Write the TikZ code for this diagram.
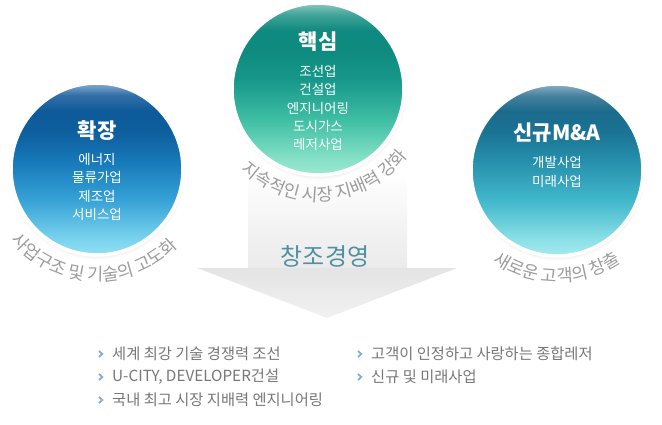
\documentclass[tikz,border=0pt]{standalone}
\usepackage{fontspec}
\newfontfamily\kr{Noto Sans CJK KR}
\usetikzlibrary{decorations.text,shadows,calc}

\definecolor{La}{HTML}{92E0F3}\definecolor{Lb}{HTML}{78D2EE}\definecolor{Lc}{HTML}{36A2D6}
\definecolor{Ld}{HTML}{1678B8}\definecolor{Le}{HTML}{0E5E9D}\definecolor{Lf}{HTML}{0E5A9A}
\definecolor{Lg}{HTML}{3370A8}\definecolor{Lh}{HTML}{8AAED2}
\definecolor{Ma}{HTML}{9EE8D2}\definecolor{Mb}{HTML}{84E0C6}\definecolor{Mc}{HTML}{3FBFA4}
\definecolor{Md}{HTML}{17988A}\definecolor{Me}{HTML}{0F8A7F}\definecolor{Mf}{HTML}{0F8A80}
\definecolor{Mg}{HTML}{40A398}\definecolor{Mh}{HTML}{8CC8C0}
\definecolor{Ra}{HTML}{A4EAEE}\definecolor{Rb}{HTML}{8AE0E6}\definecolor{Rc}{HTML}{42B8CC}
\definecolor{Rd}{HTML}{2690AC}\definecolor{Re}{HTML}{1B7394}\definecolor{Rf}{HTML}{1B6A8C}
\definecolor{Rg}{HTML}{45809F}\definecolor{Rh}{HTML}{8CB0C4}
\definecolor{arcgray}{HTML}{9C9C9C}
\definecolor{listgray}{HTML}{777777}
\definecolor{chevblue}{HTML}{7FA9DA}
\definecolor{slogan}{HTML}{4F90A2}
\definecolor{shaftgray}{HTML}{EAEAEA}
\definecolor{headtop}{HTML}{E4E4E4}
\definecolor{headbot}{HTML}{F1F1F1}

\pgfdeclareverticalshading{ballL}{100bp}{color(0bp)=(La); color(25bp)=(La); color(30bp)=(Lb); color(41bp)=(Lc); color(52.5bp)=(Ld); color(61bp)=(Le); color(67bp)=(Lf); color(71.5bp)=(Lg); color(75bp)=(Lh); color(100bp)=(Lh)}
\pgfdeclareverticalshading{ballM}{100bp}{color(0bp)=(Ma); color(25bp)=(Ma); color(30bp)=(Mb); color(41bp)=(Mc); color(52.5bp)=(Md); color(61bp)=(Me); color(67bp)=(Mf); color(71.5bp)=(Mg); color(75bp)=(Mh); color(100bp)=(Mh)}
\pgfdeclareverticalshading{ballR}{100bp}{color(0bp)=(Ra); color(25bp)=(Ra); color(30bp)=(Rb); color(41bp)=(Rc); color(52.5bp)=(Rd); color(61bp)=(Re); color(67bp)=(Rf); color(71.5bp)=(Rg); color(75bp)=(Rh); color(100bp)=(Rh)}

\tikzset{
  ball/.style={circle, minimum size=172pt, inner sep=0pt, draw=white, line width=3.5pt,
    circular drop shadow={shadow scale=1.03, shadow xshift=0pt, shadow yshift=-2pt, opacity=0.35}},
  balltitle/.style={text=white, font=\kr\bfseries\fontsize{21}{23}\selectfont, inner sep=0pt},
  ballitems/.style={text=white, font=\kr\fontsize{13.5}{18.3}\selectfont, align=center, inner sep=0pt},
  arctext/.style={decorate, decoration={text along path, text align=center,
    text={|\kr\fontsize{17.5}{18}\selectfont\color{arcgray}|#1}}},
  listitem/.style={anchor=west, inner sep=0pt, text=listgray, font=\kr\fontsize{15.3}{17}\selectfont},
  chevron/.style={draw=chevblue, line width=1.7pt}
}

\begin{document}
\begin{tikzpicture}[x=1pt,y=1pt]
\useasboundingbox (0,0) rectangle (662,-425);

% arrow
\shade[top color=white, bottom color=shaftgray] (248,-172) rectangle (407,-269);
\shade[top color=headtop, bottom color=headbot] (197,-268) -- (457,-268) -- (327,-318) -- cycle;
\node[text=slogan, font=\kr\fontsize{24}{26}\selectfont, inner sep=0pt] (slog) at (325,-256) {창조경영};

% circles
\node[ball, shade, shading=ballL] (L) at (97,-169) {};
\node[ball, shade, shading=ballM] (M) at (318,-89) {};
\node[ball, shade, shading=ballR] (R) at (557,-170) {};

\node[balltitle] (Lt) at (97,-131) {확장};
\node[ballitems] (Li) at (97,-187) {에너지\\물류가업\\제조업\\서비스업};
\node[balltitle] (Mt) at (318,-42) {핵심};
\node[ballitems] (Mi) at (318,-108) {조선업\\건설업\\엔지니어링\\도시가스\\레저사업};
\node[balltitle] (Rt) at (557,-133) {신규M\&A};
\node[ballitems] (Ri) at (557,-172) {개발사업\\미래사업};

% curved captions
\path[arctext={사업구조 및 기술의 고도화}] ($(L)+(196:112)$) arc[start angle=196, end angle=340, radius=112];
\path[arctext={지속적인 시장 지배력 강화}] ($(M)+(203:112)$) arc[start angle=203, end angle=347, radius=112];
\path[arctext={새로운 고객의 창출}] ($(R)+(200:112)$) arc[start angle=200, end angle=340, radius=112];

% list
\node[listitem] (a1) at (112,-354) {세계 최강 기술 경쟁력 조선};
\node[listitem] (a2) at (112,-377) {U-CITY, DEVELOPER건설};
\node[listitem] (a3) at (112,-400) {국내 최고 시장 지배력 엔지니어링};
\node[listitem] (b1) at (371,-354) {고객이 인정하고 사랑하는 종합레저};
\node[listitem] (b2) at (371,-377) {신규 및 미래사업};
\foreach \n in {a1,a2,a3,b1,b2}{
  \draw[chevron] ([xshift=-11pt]\n.west) +(-2,3) -- +(1.3,0) -- +(-2,-3);
}
\end{tikzpicture}
\end{document}
